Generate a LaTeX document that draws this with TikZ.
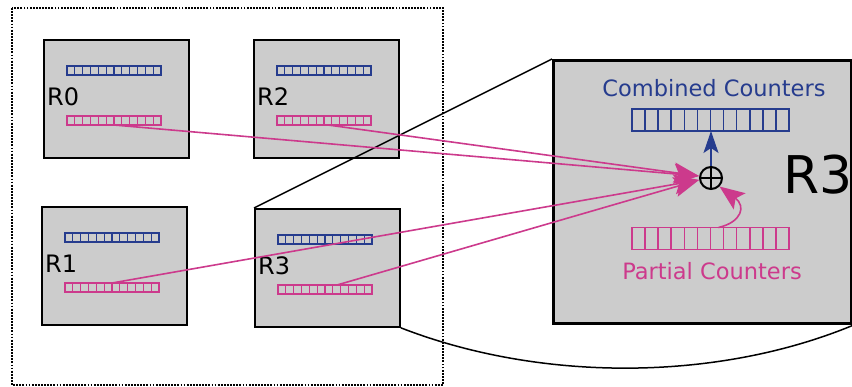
\documentclass[tikz,border=0pt]{standalone}
\usepackage{fontspec}
\setmainfont{DejaVu Sans}
\usetikzlibrary{positioning,calc,arrows.meta}

\definecolor{boxgray}{RGB}{204,204,204}
\definecolor{cntblue}{RGB}{38,60,142}
\definecolor{cntpink}{RGB}{204,58,140}

\tikzset{
  region/.style={draw, line width=1.8, fill=boxgray, inner sep=0, minimum width=145, minimum height=118},
  cells/.style={draw=#1, line width=1.1, inner sep=0, outer sep=0, minimum width=94, minimum height=9},
  bigcells/.style={cells=#1, line width=1.6, minimum width=157, minimum height=22},
  flow/.style={cntpink, line width=1.6, -{Stealth[length=25pt,width=20pt,inset=5pt]}},
  rlabel/.style={anchor=base west, inner sep=0, font=\fontsize{24}{28}\selectfont},
}

% cut a counter row into 12 cells: node, colour, line width
\newcommand{\splitcells}[3]{%
  \foreach \k in {1,...,11}
    \draw[#2, line width=#3] ($(#1.north west)!\k/12!(#1.north east)$) -- ($(#1.south west)!\k/12!(#1.south east)$);}

\begin{document}
\begin{tikzpicture}[x=1pt, y=-1pt]
  \useasboundingbox (0,0) rectangle (852,386);

  % dotted frame round the four regions
  \draw[line width=2, dash pattern=on 1.8pt off 1.3pt] (12,8) rectangle (443,385);

  \foreach \n/\x/\y in {0/43/39, 2/253/39, 1/41/206, 3/254/208} {
    \node[region, anchor=north west] (r\n) at (\x,\y) {};
    \node[cells=cntblue, anchor=north west] (b\n) at (\x+24,\y+27) {};
    \node[cells=cntpink, anchor=north west] (p\n) at (\x+24,\y+77) {};
    \splitcells{b\n}{cntblue}{1.1}
    \splitcells{p\n}{cntpink}{1.1}
    \node[rlabel] (l\n) at (\x+4,\y+66) {R\n};
  }

  % enlarged view of R3
  \node[region, line width=3.2, anchor=north west, minimum width=298, minimum height=263] (big) at (552,59) {};
  \draw[line width=1.5] (r3.north west) -- (big.north west);
  \draw[line width=1.5] (r3.south east) .. controls (540,382) and (716,382) .. (big.south east);

  \node[bigcells=cntblue] (comb) at (710.5,120) {};
  \node[bigcells=cntpink] (part) at (710.5,238.5) {};
  \splitcells{comb}{cntblue}{1.6}
  \splitcells{part}{cntpink}{1.6}
  \node[cntblue, anchor=base, font=\fontsize{22.5}{26}\selectfont] (combtxt) at (714,96) {Combined Counters};
  \node[cntpink, anchor=base, font=\fontsize{22.5}{26}\selectfont] (parttxt) at (712,279) {Partial Counters};
  \node[rlabel, font=\fontsize{52}{60}\selectfont] (bigl) at (783,193) {R3};

  % the adder
  \node[draw, circle, line width=2, minimum size=22, inner sep=0] (sum) at (711,178) {};
  \draw[line width=2] (sum.north) -- (sum.south) (sum.west) -- (sum.east);

  \draw[cntblue, line width=1.6, -{Stealth[length=22pt,width=15pt,inset=5pt]}] (sum.north) -- (sum.north |- comb.south);
  \draw[flow] ([xshift=8pt]part.north) .. controls (742,222) and (746,206) .. (sum.south east);

  % partial counters of every region into the adder
  \draw[flow] (p0.south) -- ([yshift=2pt]sum.west);
  \draw[flow] ([xshift=4pt]p2.south) -- ([yshift=2pt]sum.west);
  \draw[flow] (p1.north) -- ([yshift=-2pt]sum.west);
  \draw[flow] ([xshift=12pt]p3.north) -- ([yshift=-2pt]sum.west);
\end{tikzpicture}
\end{document}
